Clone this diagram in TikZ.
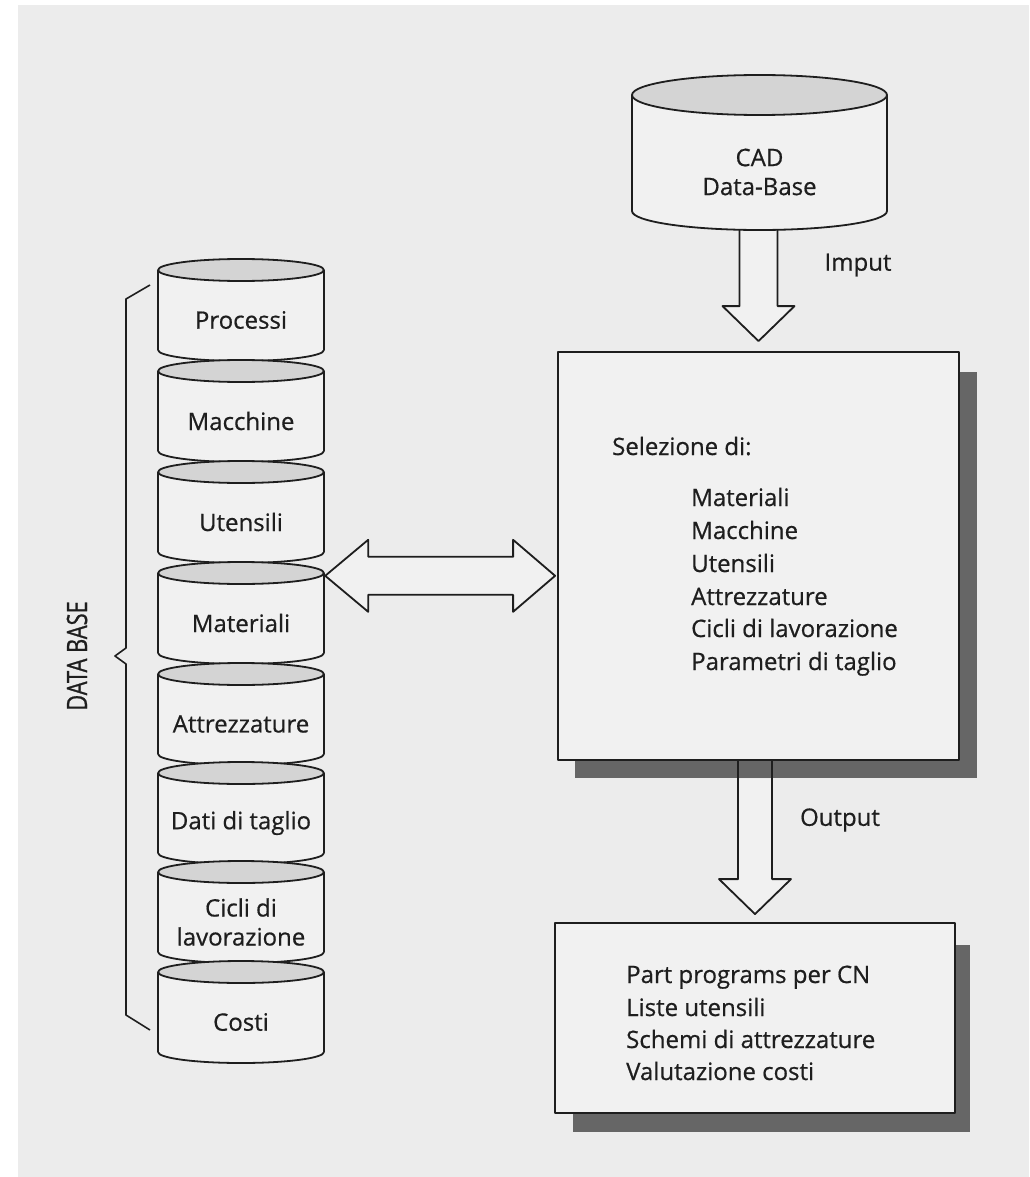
\documentclass[tikz,border=0pt]{standalone}
\usepackage{fontspec}
\setmainfont{Open Sans}[FakeBold=0.6]
\newfontfamily\condensedfont{Open Sans}[FakeStretch=0.78, FakeBold=0.8]
\usetikzlibrary{calc}
\definecolor{ink}{HTML}{1E1E1E}
\definecolor{bgc}{HTML}{ECECEC}
\definecolor{fillc}{HTML}{F1F1F1}
\definecolor{topc}{HTML}{D4D4D4}
\definecolor{shadowc}{HTML}{666666}
\tikzset{
  outl/.style={draw=ink, line width=1.8pt, line join=round},
  lbl/.style={font=\fontsize{24}{29}\selectfont, text=ink, inner sep=0pt},
  listlbl/.style={lbl, anchor=base west},
  boxst/.style={outl, fill=fillc, inner sep=0pt},
  arrowfill/.style={fill=fillc},
  ghost/.style={inner sep=0pt, draw=none}
}
\newcommand\stackcyl[3]{%
  \node[ghost, minimum width=166pt, minimum height=102pt] (#1) at (241,#2+40) {};
  \filldraw[outl, fill=fillc] (241,#2+80) ellipse[x radius=83pt, y radius=11pt];
  \fill[fillc] (158,#2) rectangle (324,#2+80);
  \draw[outl] (158,#2) -- (158,#2+80) (324,#2) -- (324,#2+80);
  \filldraw[outl, fill=topc] (241,#2) ellipse[x radius=83pt, y radius=11pt];
  \node[lbl, align=center] (#1t) at (241,#2+50) {#3};
}
\begin{document}
\begin{tikzpicture}[x=1pt,y=-1pt]
\useasboundingbox (0,0) rectangle (1029,1177);
\fill[white] (0,0) rectangle (1029,1177);
\fill[bgc] (18,5) rectangle (1029,1177);

% ---------- boxes (named) ----------
\fill[shadowc] (575,372) rectangle (977,778);
\node[boxst, minimum width=401pt, minimum height=408pt] (sel) at (758.5,556) {};
\fill[shadowc] (573,945) rectangle (970,1132);
\node[boxst, minimum width=400pt, minimum height=190pt] (outb) at (755,1018) {};

% ---------- CAD cylinder ----------
\node[ghost, minimum width=255pt, minimum height=155pt] (cad) at (759.5,152.5) {};
% Imput arrow
\coordinate (ia) at ($(cad.south -| sel.north)+(0,-10)$);
\coordinate (ib) at ($(sel.north)+(0,-45)$);
\coordinate (itip) at ($(sel.north)+(0,-10)$);
\filldraw[outl, arrowfill] ($(ia)+(-19,0)$) -- ($(ib)+(-19,0)$) -- ($(ib)+(-36,0)$) -- (itip)
  -- ($(ib)+(36,0)$) -- ($(ib)+(19,0)$) -- ($(ia)+(19,0)$);
\filldraw[outl, fill=fillc] (759.5,211) ellipse[x radius=127.5pt, y radius=19pt];
\fill[fillc] (632,95) rectangle (887,211);
\draw[outl] (632,95) -- (632,211) (887,95) -- (887,211);
\filldraw[outl, fill=topc] (759.5,95) ellipse[x radius=127.5pt, y radius=20pt];
\node[lbl, align=center] (cadt) at (759.5,172) {CAD\\Data-Base};
\node[lbl] (imput) at (858,265) {Imput};

% ---------- Output arrow ----------
\coordinate (oa) at (sel.south -| outb.north);
\coordinate (ob) at ($(outb.north)+(0,-43)$);
\coordinate (otip) at ($(outb.north)+(0,-8)$);
\fill[arrowfill] ($(oa)+(-17,18)$) -- ($(ob)+(-17,0)$) -- ($(ob)+(-36,0)$) -- (otip)
  -- ($(ob)+(36,0)$) -- ($(ob)+(17,0)$) -- ($(oa)+(17,18)$) -- cycle;
\draw[outl] ($(oa)+(-17,0)$) -- ($(ob)+(-17,0)$) -- ($(ob)+(-36,0)$) -- (otip)
  -- ($(ob)+(36,0)$) -- ($(ob)+(17,0)$) -- ($(oa)+(17,0)$);
\node[lbl] (outputl) at (840,820) {Output};

% ---------- text in boxes ----------
\node[listlbl] (s0) at (612,455) {Selezione di:};
\node[listlbl] (s1) at (691,506) {Materiali};
\node[listlbl] (s2) at (691,539) {Macchine};
\node[listlbl] (s3) at (691,572) {Utensili};
\node[listlbl] (s4) at (691,605) {Attrezzature};
\node[listlbl] (s5) at (691,637) {Cicli di lavorazione};
\node[listlbl] (s6) at (691,670) {Parametri di taglio};

\node[listlbl] (o1) at (626,983) {Part programs per CN};
\node[listlbl] (o2) at (626,1016) {Liste utensili};
\node[listlbl] (o3) at (626,1048) {Schemi di attrezzature};
\node[listlbl] (o4) at (626,1080) {Valutazione costi};

% ---------- left stack ----------
\stackcyl{cproc}{270}{Processi}
\stackcyl{cmac}{371}{Macchine}
\stackcyl{cute}{472}{Utensili}
\stackcyl{cmat}{573}{Materiali}
\stackcyl{catt}{674}{Attrezzature}
\stackcyl{cdat}{773}{Dati di taglio}
\stackcyl{ccic}{872}{Cicli di\\lavorazione}
\stackcyl{ccos}{972}{Costi}

% ---------- double arrow ----------
\coordinate (dl) at ($(cmat.north east)+(1,14)$);
\coordinate (dr) at ($(dl -| sel.west)+(-2,0)$);
\filldraw[outl, arrowfill] (dl) -- ($(dl)+(43,-36)$) -- ($(dl)+(43,-19)$) -- ($(dr)+(-42,-19)$)
  -- ($(dr)+(-42,-36)$) -- (dr) -- ($(dr)+(-42,36)$) -- ($(dr)+(-42,19)$)
  -- ($(dl)+(43,19)$) -- ($(dl)+(43,36)$) -- cycle;

% ---------- brace ----------
\draw[outl, line width=1.6pt] (150,285) -- (126,299) -- (126,648) -- (115,656) -- (126,664)
  -- (126,1015) -- (150,1030);
\node[text=ink, inner sep=0pt, rotate=90, font=\condensedfont\fontsize{28}{30}\selectfont] (dbase) at (77,656) {DATA BASE};
\end{tikzpicture}
\end{document}
